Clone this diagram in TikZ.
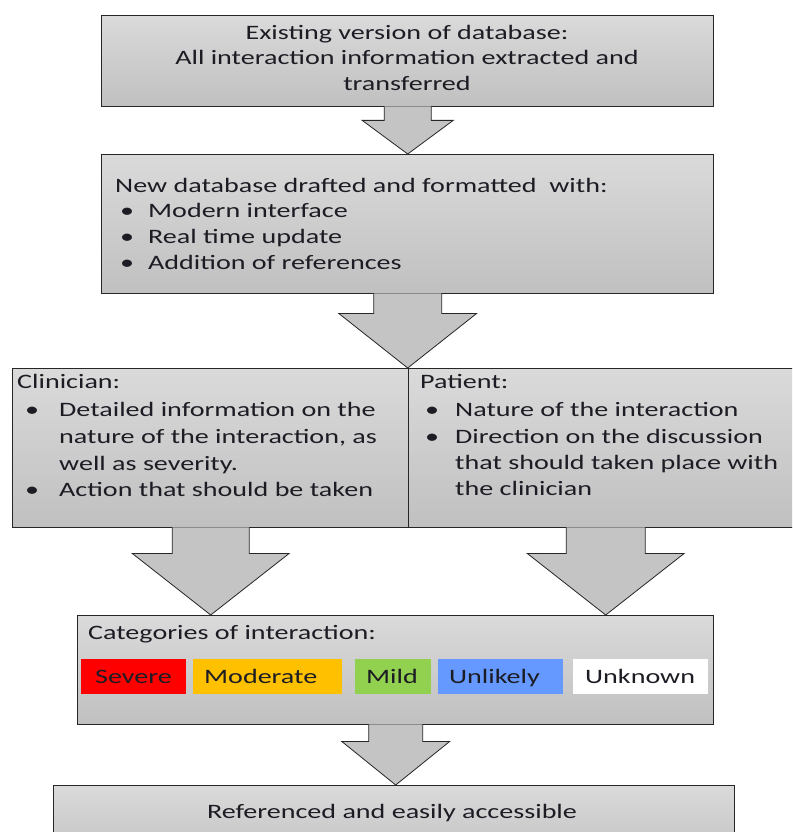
\documentclass[tikz,border=0pt]{standalone}
\usepackage{fontspec}
\setmainfont[FakeStretch=1.37]{Carlito}
\usetikzlibrary{calc}
\definecolor{boxtop}{RGB}{218,218,218}
\definecolor{boxbot}{RGB}{192,192,192}
\definecolor{edge}{RGB}{38,38,38}
\definecolor{txt}{RGB}{28,28,36}
\definecolor{arrowfill}{RGB}{196,196,196}
\definecolor{csevere}{RGB}{255,0,0}
\definecolor{cmod}{RGB}{255,192,0}
\definecolor{cmild}{RGB}{146,208,80}
\definecolor{cunl}{RGB}{102,153,255}
\tikzset{
  box/.style={draw=edge, line width=1.4pt, top color=boxtop, bottom color=boxbot,
    inner sep=0pt, anchor=north west},
  lbl/.style={text=txt, font=\fontsize{20.5}{25}\selectfont, inner sep=0pt},
  fat/.style={draw=edge, line width=0.8pt, fill=arrowfill, line join=miter},
  catbox/.style={inner sep=0pt, anchor=north west, minimum height=35pt},
}
\newcommand\tl[4]{\node[lbl, anchor=base west] (#1) at (#2,#3) {#4};}
\newcommand\tc[4]{\node[lbl, anchor=base] (#1) at (#2,#3) {#4};}
% #1 source node, #2 target node, #3 shaft half width, #4 head half width, #5 shaft length
\newcommand\fatarrow[5]{%
  \draw[fat] let \p1=(#1.south), \p2=(#2.north) in
    (\x1-#3,\y1+1pt) -- (\x1-#3,\y1-#5) -- (\x1-#4,\y1-#5) -- (\x1,\y2)
    -- (\x1+#4,\y1-#5) -- (\x1+#3,\y1-#5) -- (\x1+#3,\y1+1pt);}
\begin{document}
\begin{tikzpicture}[x=1pt,y=-1pt]
\clip (0,0) rectangle (792,832);
\fill[white] (0,0) rectangle (792,832);
% boxes
\node[box, minimum width=612pt, minimum height=91pt] (b1) at (101,15) {};
\node[box, minimum width=612pt, minimum height=139pt] (b2) at (101,154) {};
\node[box, minimum width=396pt, minimum height=159pt] (clin) at (12,368) {};
\node[box, minimum width=394pt, minimum height=159pt] (pat) at (408,368) {};
\node[box, minimum width=636pt, minimum height=109pt] (b4) at (77,615) {};
\node[box, minimum width=681pt, minimum height=80pt] (b5) at (53,785) {};
% arrows
\fatarrow{b1}{b2}{23.5pt}{45.5pt}{13pt}
\fatarrow{b2}{clin}{34pt}{69pt}{19pt}
\fatarrow{clin}{b4}{38.5pt}{78.5pt}{25pt}
\fatarrow{pat}{b4}{39.5pt}{78.5pt}{25pt}
\fatarrow{b4}{b5}{27pt}{54pt}{16pt}
% box 1 text
\tc{a1}{407}{40}{Existing version of database:}
\tc{a2}{407}{65}{All interaction information extracted and}
\tc{a3}{407}{91}{transferred}
% box 2 text
\tl{n0}{115}{192}{New database drafted and formatted\ \ with:}
\tl{n1b}{120}{217}{\textbullet}
\tl{n1}{148}{217}{Modern interface}
\tl{n2b}{120}{243}{\textbullet}
\tl{n2}{148}{243}{Real time update}
\tl{n3b}{120}{269}{\textbullet}
\tl{n3}{148}{269}{Addition of references}
% clinician text
\tl{c0}{17}{388}{Clinician:}
\tl{c1b}{25}{416}{\textbullet}
\tl{c1}{59}{416}{Detailed information on the}
\tl{c2}{59}{443}{nature of the interaction, as}
\tl{c3}{59}{470}{well as severity.}
\tl{c4b}{25}{496}{\textbullet}
\tl{c4}{59}{496}{Action that should be taken}
% patient text
\tl{p0}{420}{388}{Patient:}
\tl{p1b}{425}{416}{\textbullet}
\tl{p1}{455}{416}{Nature of the interaction}
\tl{p2b}{425}{443}{\textbullet}
\tl{p2}{455}{443}{Direction on the discussion}
\tl{p3}{455}{469}{that should taken place with}
\tl{p4}{455}{495}{the clinician}
% categories
\tl{k0}{88}{639}{Categories of interaction:}
\node[catbox, fill=csevere, minimum width=105pt] (sev) at (81,659) {};
\node[catbox, fill=cmod, minimum width=149pt] (mod) at (193,659) {};
\node[catbox, fill=cmild, minimum width=76pt] (mil) at (355,659) {};
\node[catbox, fill=cunl, minimum width=125pt] (unl) at (438,659) {};
\node[catbox, fill=white, minimum width=135pt] (unk) at (573,659) {};
\tl{sevt}{95}{683}{Severe}
\tl{modt}{204}{683}{Moderate}
\tl{milt}{366}{683}{Mild}
\tl{unlt}{449}{683}{Unlikely}
\tl{unkt}{585}{683}{Unknown}
% box 5 text
\tc{r1}{392}{818}{Referenced and easily accessible}
\end{tikzpicture}
\end{document}
